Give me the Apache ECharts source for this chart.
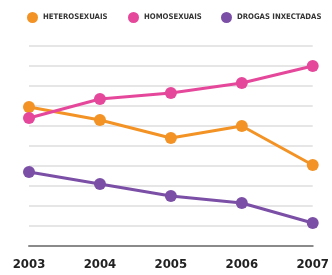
<!DOCTYPE html>
<html><head><meta charset="utf-8">
<script src="https://cdn.jsdelivr.net/npm/echarts@6/dist/echarts.min.js"></script>
<style>html,body{margin:0;padding:0;background:#fff}#c{width:332px;height:275px}</style>
</head><body><div id="c"></div>
<script>
const years = ['2003','2004','2005','2006','2007'];
const seriesNames = ['HETEROSEXUAIS','HOMOSEXUAIS','DROGAS INXECTADAS'];
const hetero = [69.5, 63, 54, 60, 40.5];
const homo = [64, 73.5, 76.5, 81.5, 90];
const drogas = [37, 31, 25, 21.5, 11.5];
const colors = ['#f39325','#e5489b','#7b4fa6'];
const values = [hetero, homo, drogas];
const font = '"DejaVu Sans Condensed"';
const legendLeft = [22, 123, 216];
const chart = echarts.init(document.getElementById('c'));
chart.setOption({
  animation:false,
  backgroundColor:'#fff',
  legend: seriesNames.map((n,i)=>({
    data:[n], left:legendLeft[i], top:7, icon:'circle', itemWidth:11, itemHeight:11, itemGap:4,
    textStyle:{fontFamily:font, fontWeight:'bold', fontSize:7.7, color:'#333'}
  })),
  grid:{left:29, right:14, top:46, bottom:29},
  xAxis:{type:'category', data:years, boundaryGap:false,
    axisLine:{lineStyle:{color:'#8a8a8a', width:2}}, axisTick:{show:false},
    axisLabel:{fontFamily:font, fontWeight:'bold', fontSize:13, color:'#222', margin:12}},
  yAxis:{type:'value', min:0, max:100, interval:10,
    axisLabel:{show:false}, axisLine:{show:false}, axisTick:{show:false},
    splitLine:{lineStyle:{color:'#dedede', width:1.5}}},
  series: seriesNames.map((n,i)=>({
    name:n, type:'line', data:values[i], symbol:'circle', symbolSize:12,
    itemStyle:{color:colors[i]}, lineStyle:{width:3, color:colors[i]}
  }))
});
</script></body></html>
